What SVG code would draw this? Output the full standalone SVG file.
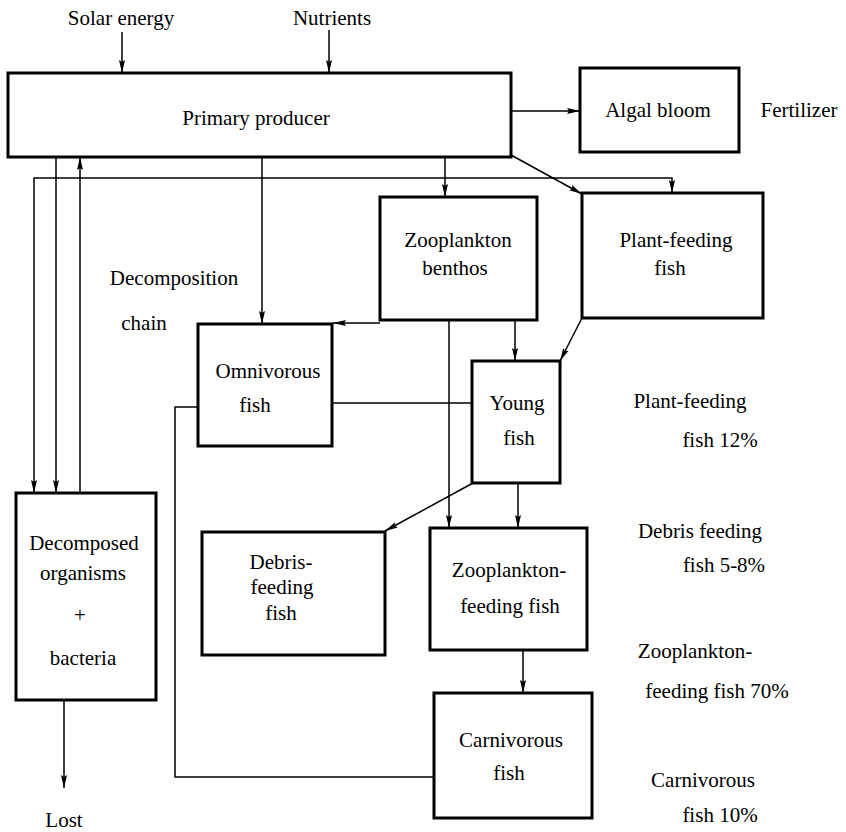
<svg xmlns="http://www.w3.org/2000/svg" width="846" height="832" viewBox="0 0 846 832" font-family="'Liberation Serif','Times New Roman',serif">
<defs>
<marker id="ah" markerUnits="userSpaceOnUse" markerWidth="14" markerHeight="8" refX="13" refY="4" orient="auto-start-reverse">
<path d="M0,1 L13,4 L0,7 L2,4 z" fill="#000"/>
</marker>
<style>
.box{fill:#fff;stroke:#000;stroke-width:3}
.c{fill:none;stroke:#000;stroke-width:1.5}
.a{marker-end:url(#ah)}
text{font-family:"Liberation Serif","Times New Roman",serif;font-size:21px;fill:#000;text-anchor:middle}
</style>
</defs>
<rect width="846" height="832" fill="#fff"/>

<g id="connectors">
<path class="c a" d="M122,32 V73"/>
<path class="c a" d="M329,30 V73"/>
<path class="c a" d="M511,111 H580"/>
<path class="c a" d="M56,157 V493"/>
<path class="c a" d="M80,493 V157"/>
<path class="c a" d="M34,493 V178 H672 V193" style="marker-start:url(#ah)"/>
<path class="c a" d="M262,157 V324"/>
<path class="c a" d="M445,157 V197"/>
<path class="c a" d="M511,155 L582,194"/>
<path class="c a" d="M380,323 H333"/>
<path class="c a" d="M449,320 V528"/>
<path class="c a" d="M515,320 V361"/>
<path class="c a" d="M582,318 L560,361"/>
<path class="c" d="M332,403 H472"/>
<path class="c" d="M198,407 H175 V777 H434"/>
<path class="c a" d="M473,483 L385,531"/>
<path class="c a" d="M518,483 V528"/>
<path class="c a" d="M523,650 V693"/>
<path class="c a" d="M64,700 V788"/>
</g>

<g id="solar"><text x="121" y="25">Solar energy</text></g>
<g id="nutrients"><text x="332" y="25">Nutrients</text></g>

<g id="primary">
<rect class="box" x="8" y="73" width="503" height="84"/>
<text x="256" y="125">Primary producer</text>
</g>

<g id="algal">
<rect class="box" x="580" y="68" width="159" height="84"/>
<text x="658" y="117">Algal bloom</text>
</g>
<g id="fertilizer"><text x="799" y="117">Fertilizer</text></g>

<g id="zoobenthos">
<rect class="box" x="380" y="197" width="157" height="123"/>
<text x="458" y="247">Zooplankton</text>
<text x="455" y="275">benthos</text>
</g>

<g id="plantfish">
<rect class="box" x="582" y="193" width="181" height="125"/>
<text x="676" y="247">Plant-feeding</text>
<text x="670" y="275">fish</text>
</g>

<g id="decompchain">
<text x="174" y="285">Decomposition</text>
<text x="144" y="330">chain</text>
</g>

<g id="omnivorous">
<rect class="box" x="198" y="324" width="134" height="122"/>
<text x="268" y="378">Omnivorous</text>
<text x="255" y="412">fish</text>
</g>

<g id="young">
<rect class="box" x="472" y="361" width="88" height="122"/>
<text x="517" y="410">Young</text>
<text x="519" y="445">fish</text>
</g>

<g id="decomposed">
<rect class="box" x="16" y="493" width="140" height="207"/>
<text x="84" y="550">Decomposed</text>
<text x="83" y="580">organisms</text>
<text x="80" y="622">+</text>
<text x="83" y="665">bacteria</text>
</g>

<g id="debris">
<rect class="box" x="202" y="532" width="183" height="123"/>
<text x="281" y="569">Debris-</text>
<text x="282" y="594">feeding</text>
<text x="281" y="620">fish</text>
</g>

<g id="zoofeeding">
<rect class="box" x="430" y="528" width="157" height="122"/>
<text x="509" y="577">Zooplankton-</text>
<text x="510" y="613">feeding fish</text>
</g>

<g id="carnivorous">
<rect class="box" x="434" y="693" width="158" height="125"/>
<text x="511" y="747">Carnivorous</text>
<text x="509" y="780">fish</text>
</g>

<g id="lost"><text x="64" y="827">Lost</text></g>

<g id="percentages">
<text x="690" y="408">Plant-feeding</text>
<text x="720" y="447">fish 12%</text>
<text x="700" y="538">Debris feeding</text>
<text x="724" y="572">fish 5-8%</text>
<text x="695" y="658">Zooplankton-</text>
<text x="717" y="698">feeding fish 70%</text>
<text x="703" y="787">Carnivorous</text>
<text x="720" y="822">fish 10%</text>
</g>
</svg>
